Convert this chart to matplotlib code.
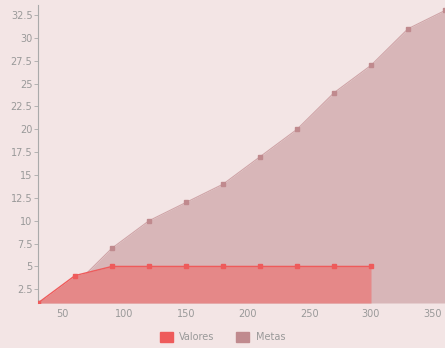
import matplotlib
matplotlib.use("Agg")
import matplotlib.pyplot as plt
from matplotlib.patches import Patch

x_metas = [30, 60, 90, 120, 150, 180, 210, 240, 270, 300, 330, 360]
metas = [1, 3, 7, 10, 12, 14, 17, 20, 24, 27, 31, 33]
x_valores = [30, 60, 90, 120, 150, 180, 210, 240, 270, 300]
valores = [1, 4, 5, 5, 5, 5, 5, 5, 5, 5]
yticks = [2.5, 5, 7.5, 10, 12.5, 15, 17.5, 20, 22.5, 25, 27.5, 30, 32.5]
xticks = [50, 100, 150, 200, 250, 300, 350]

bg = "#f3e5e5"
metas_fill = "#d8b6b8"
metas_pt = "#c08a8e"
val_fill = "#e58888"
val_line = "#ee5b5b"
txt = "#999999"

fig = plt.figure(figsize=(4.45, 3.48), dpi=100, facecolor=bg)
ax = fig.add_axes([38/445, 1-303/348, 1-38/445, (303-5)/348])
ax.set_facecolor(bg)

ymin = 1
ax.fill_between(x_metas, metas, ymin, color=metas_fill, lw=0, zorder=1)
ax.plot(x_metas, metas, color="#cfa4a7", lw=0.8, zorder=2)
ax.plot(x_metas, metas, 's', color=metas_pt, ms=3, zorder=3)
ax.fill_between(x_valores, valores, ymin, color=val_fill, lw=0, zorder=4)
ax.plot(x_valores, valores, color=val_line, lw=1, zorder=5)
ax.plot(x_valores, valores, 's', color=val_line, ms=3.5, zorder=6)

ax.set_xlim(30, 360)
ax.set_ylim(ymin, 33.6)
ax.set_xticks(xticks)
ax.set_yticks(yticks)
ax.set_yticklabels([f"{v:g}" for v in yticks])
for s in ["top", "right", "bottom"]:
    ax.spines[s].set_visible(False)
ax.spines["left"].set_color("#aaaaaa")
ax.spines["left"].set_linewidth(0.8)
ax.tick_params(axis="y", length=3, width=0.6, color="#aaaaaa", labelsize=7, labelcolor=txt, pad=1)
ax.tick_params(axis="x", length=0, labelsize=7, labelcolor=txt, pad=4)

handles = [Patch(color=val_line, label="Valores"), Patch(color=metas_pt, label="Metas")]
fig.legend(handles=handles, loc="center", bbox_to_anchor=(0.5, 1-337/348), ncol=2, frameon=False,
           fontsize=7, labelcolor=txt, handlelength=1.3, handleheight=1.3, columnspacing=2.2, handletextpad=0.7)

fig.savefig("out.png", dpi=100, facecolor=bg)
